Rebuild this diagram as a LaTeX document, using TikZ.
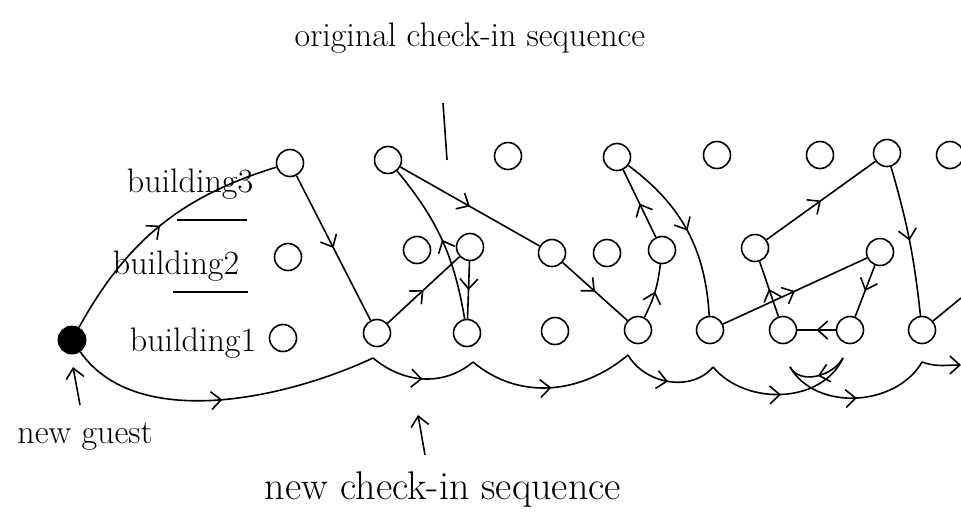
\documentclass[tikz,border=0pt]{standalone}
\usetikzlibrary{arrows.meta,decorations.markings}
\tikzset{
  room/.style={circle,draw,line width=0.8pt,inner sep=0pt,minimum size=13.5pt},
  guest/.style={circle,fill=black,draw,inner sep=0pt,minimum size=14pt},
  seq/.style={line width=0.8pt,postaction={decorate},
    decoration={markings,mark=at position 0.5 with {\arrow{Straight Barb[length=5pt,width=9pt]}}}},
  lbl/.style={font=\fontsize{17}{20}\selectfont,inner sep=1pt}
}
\begin{document}
\begin{tikzpicture}[x=0.5pt,y=0.5pt]
      \useasboundingbox (0,0) rectangle (961,-527);
      % rooms, building 1 to 3
      \node[guest] (dot) at (72,-340) {};
      \node[room] (a1) at (283,-338) {};
      \node[room] (a2) at (377,-333) {};
      \node[room] (a3) at (467,-333) {};
      \node[room] (a4) at (555,-331) {};
      \node[room] (a5) at (638,-330) {};
      \node[room] (a6) at (710,-330) {};
      \node[room] (a7) at (783,-330) {};
      \node[room] (a8) at (850,-330) {};
      \node[room] (a9) at (922,-330) {};
      \node[room] (b1) at (288,-257) {};
      \node[room] (b2) at (417,-250) {};
      \node[room] (b3) at (470,-247) {};
      \node[room] (b4) at (552,-253) {};
      \node[room] (b5) at (607,-253) {};
      \node[room] (b6) at (662,-250) {};
      \node[room] (b7) at (755,-248) {};
      \node[room] (b8) at (880,-252) {};
      \node[room] (c1) at (290,-163) {};
      \node[room] (c2) at (388,-160) {};
      \node[room] (c3) at (508,-156) {};
      \node[room] (c4) at (617,-157) {};
      \node[room] (c5) at (717,-155) {};
      \node[room] (c6) at (820,-155) {};
      \node[room] (c7) at (887,-153) {};
      \node[room] (c8) at (950,-155) {};
      \coordinate (out1) at (961,-298);
      % original sequence
      \draw[seq] (dot) to[bend left=22] (c1);
      \draw[seq] (c1) -- (a2);
      \draw[seq] (a2) -- (b3);
      \draw[seq] (b3) -- (a3);
      \draw[seq] (a3) to[bend right=15] (c2);
      \draw[seq] (c2) -- (b4);
      \draw[seq] (b4) -- (a5);
      \draw[seq] (a5) to[bend right=10] (b6);
      \draw[seq] (b6) -- (c4);
      \draw[seq] (c4) to[bend left=25] (a6);
      \draw[seq] (a6) -- (b8);
      \draw[seq] (b8) -- (a8);
      \draw[seq] (a8) -- (a7);
      \draw[seq] (a7) -- (b7);
      \draw[seq] (b7) -- (c7);
      \draw[seq] (c7) to[bend left=5] (a9);
      \draw[line width=0.8pt] (a9) -- (out1);
      % new sequence
      \coordinate (n1) at (373,-358);
      \coordinate (n2) at (473,-362);
      \coordinate (n3) at (628,-355);
      \coordinate (n4) at (713,-367);
      \coordinate (n5) at (843,-358);
      \coordinate (n6) at (790,-367);
      \coordinate (n7) at (922,-362);
      \coordinate (n8) at (961,-365);
      \draw[seq] (dot) to[out=-55,in=-155,looseness=0.85] (n1);
      \draw[seq] (n1) to[out=-40,in=-140] (n2);
      \draw[seq] (n2) to[out=-40,in=-140] (n3);
      \draw[seq] (n3) to[out=-60,in=-130] (n4);
      \draw[seq] (n4) to[out=-50,in=-115] (n5);
      \draw[seq] (n5) to[out=-120,in=-60] (n6);
      \draw[seq] (n6) to[out=-60,in=-120] (n7);
      \draw[line width=0.8pt,-{Straight Barb[length=5pt,width=9pt]}] (n7) to[out=-20,in=180] (n8);
      % labels
      \node[lbl] (orig) at (470,-38) {original check-in sequence};
      \node[lbl] (bld3) at (190,-184) {building3};
      \node[lbl] (bld2) at (176,-266) {building2};
      \node[lbl] (bld1) at (193,-343) {building1};
      \node[lbl] (ng) at (85,-436) {new guest};
      \node[lbl,font=\fontsize{20}{24}\selectfont] (nseq) at (443,-490) {new check-in sequence};
      \coordinate (o0) at (443,-103);
      \coordinate (o1) at (447,-160);
      \coordinate (g0) at (80,-405);
      \coordinate (g1) at (73,-367);
      \coordinate (s0) at (425,-455);
      \coordinate (s1) at (418,-415);
      \draw[line width=0.8pt] (o0) -- (o1);
      \draw[line width=0.8pt,-{Straight Barb[length=5pt,width=9pt]}] (g0) -- (g1);
      \draw[line width=0.8pt,-{Straight Barb[length=5pt,width=9pt]}] (s0) -- (s1);
      \draw[line width=0.8pt] (177,-220) -- (247,-220);
      \draw[line width=0.8pt] (173,-292) -- (248,-292);
    \end{tikzpicture}
\end{document}
